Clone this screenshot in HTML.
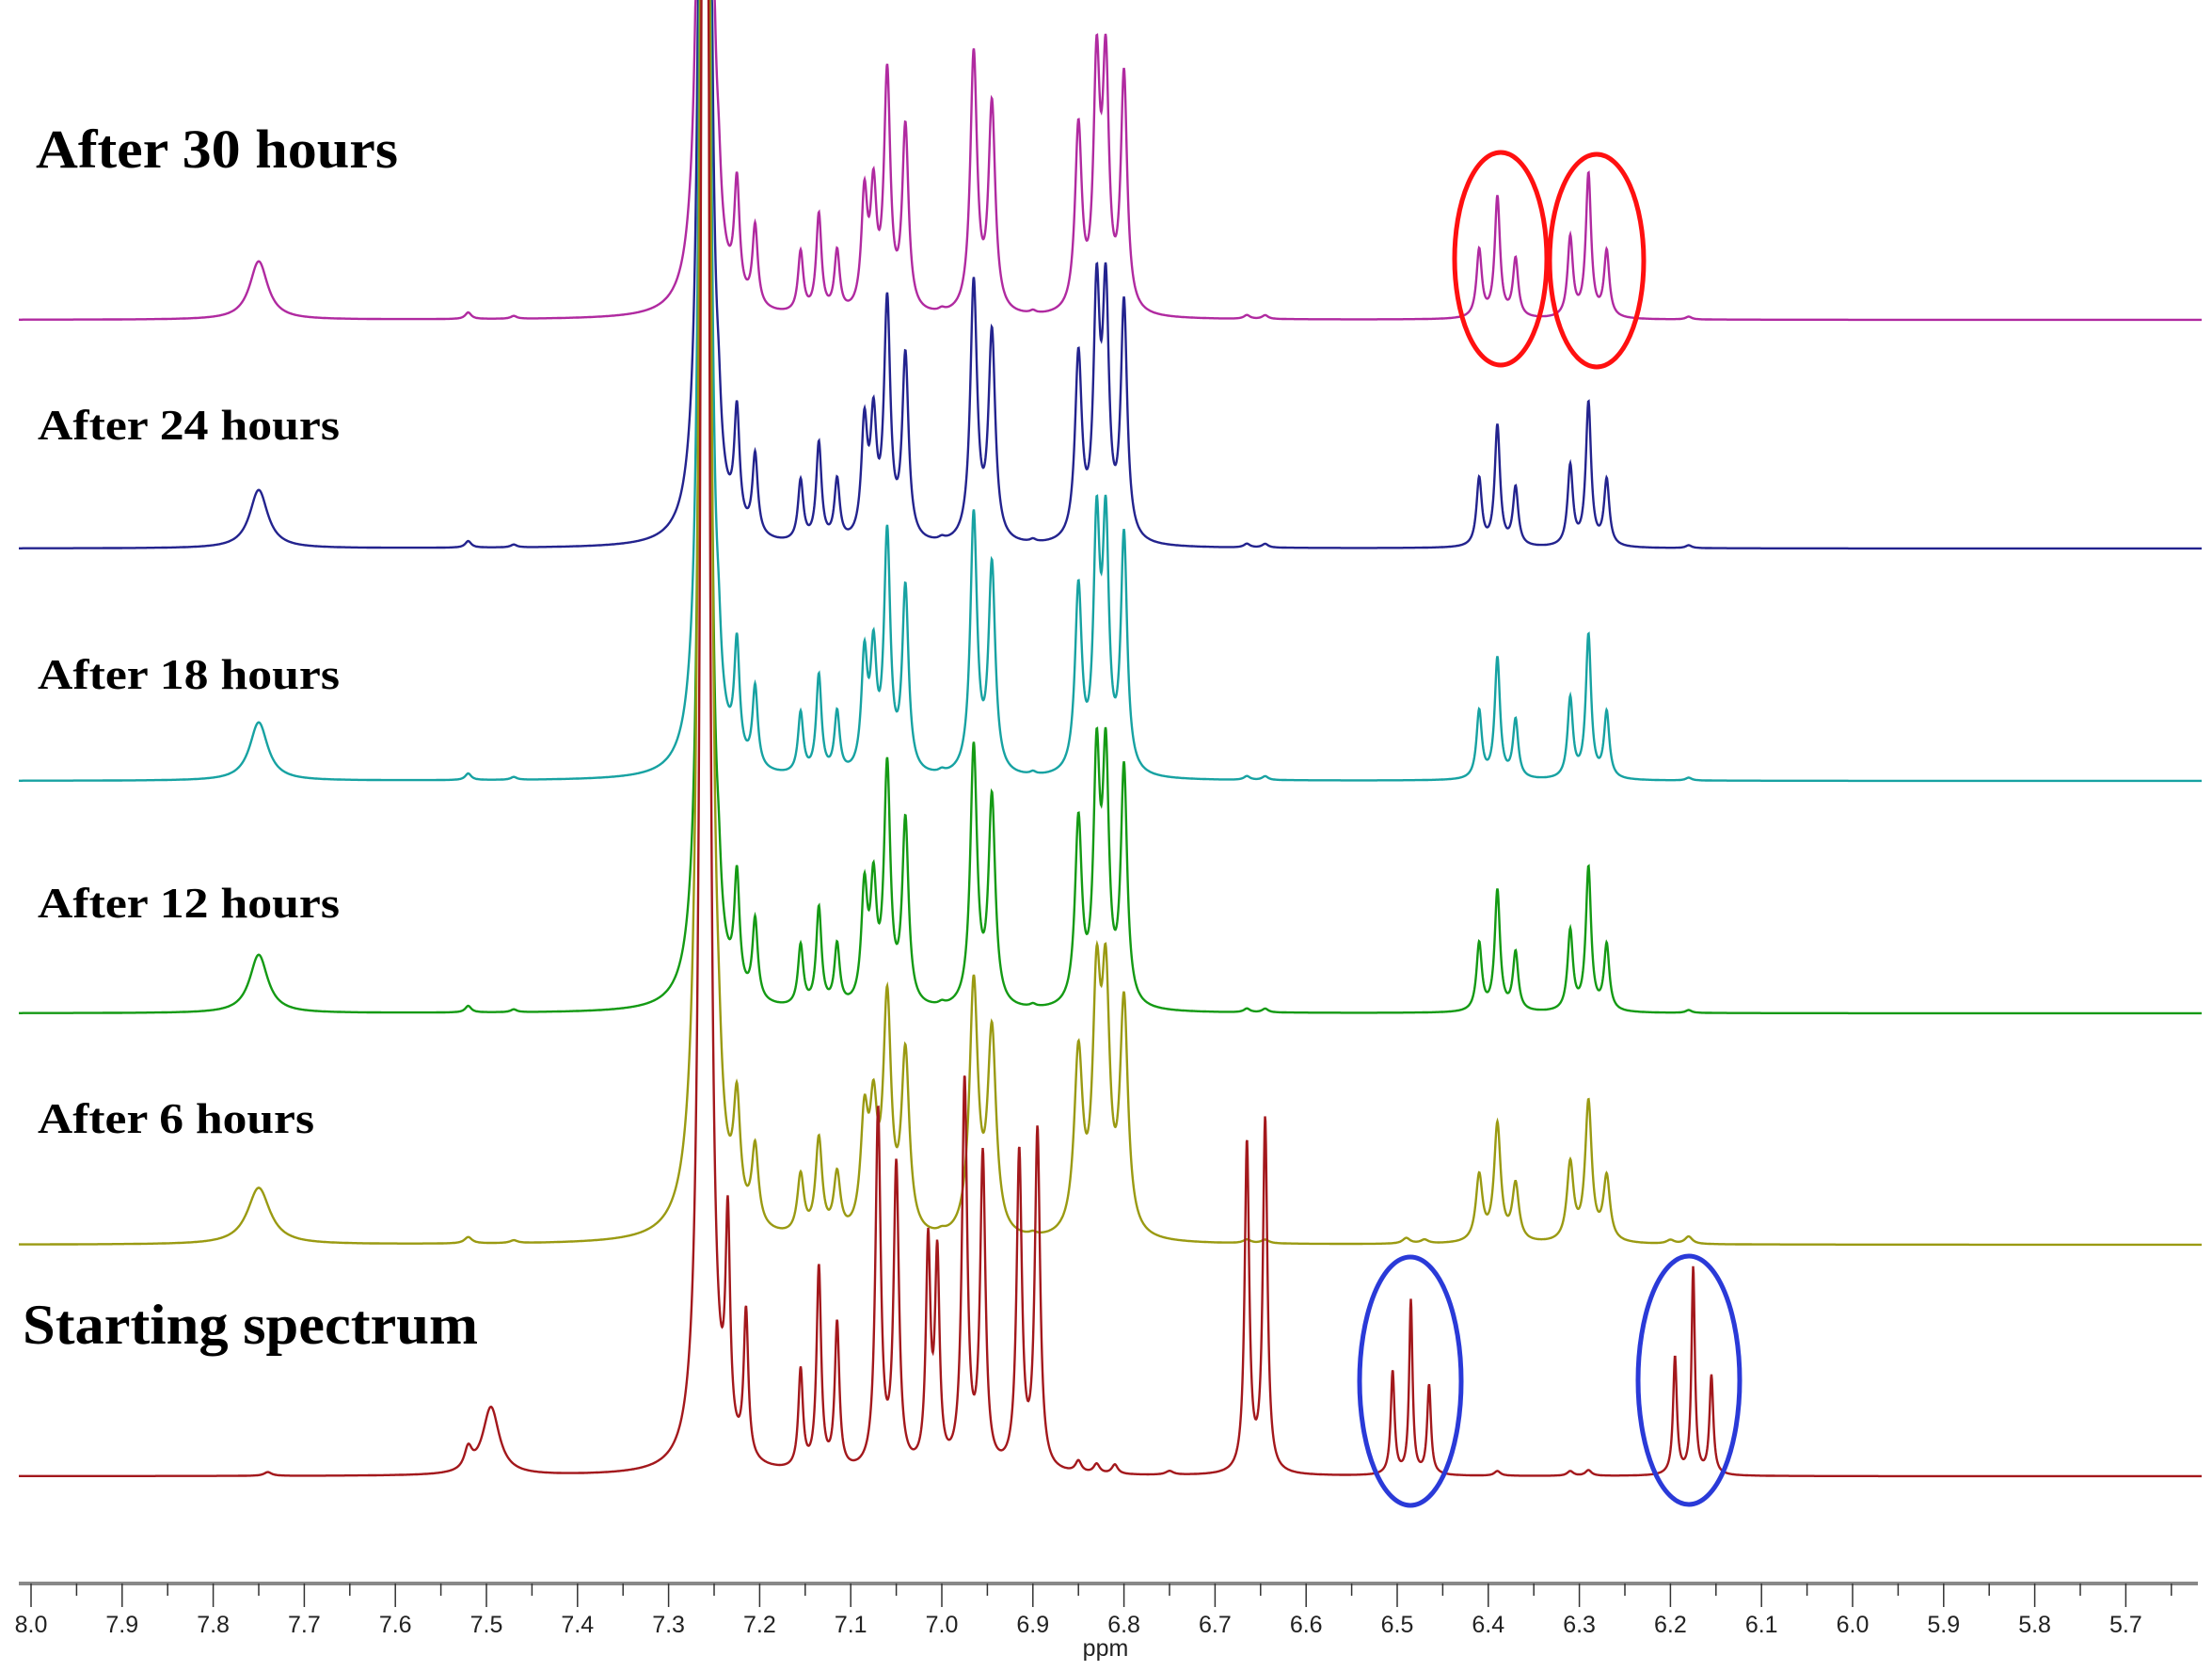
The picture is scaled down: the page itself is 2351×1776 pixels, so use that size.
<!DOCTYPE html>
<html><head><meta charset="utf-8">
<style>
html,body{margin:0;padding:0;background:#fff;}
svg{display:block;}
.lab{font-family:"Liberation Serif",serif;font-weight:bold;fill:#000;}
.tk{font-family:"Liberation Sans",sans-serif;font-size:25px;fill:#222;}
</style></head>
<body>
<svg id="s" width="2351" height="1776" viewBox="0 0 2351 1776" xmlns="http://www.w3.org/2000/svg">
<text class="lab" x="38" y="178" font-size="58" textLength="385" lengthAdjust="spacingAndGlyphs">After 30 hours</text>
<text class="lab" x="40" y="467" font-size="46" textLength="321" lengthAdjust="spacingAndGlyphs">After 24 hours</text>
<text class="lab" x="40" y="732" font-size="46" textLength="321" lengthAdjust="spacingAndGlyphs">After 18 hours</text>
<text class="lab" x="40" y="975" font-size="46" textLength="321" lengthAdjust="spacingAndGlyphs">After 12 hours</text>
<text class="lab" x="40" y="1204" font-size="46" textLength="294" lengthAdjust="spacingAndGlyphs">After 6 hours</text>
<text class="lab" x="24" y="1428" font-size="60" textLength="484" lengthAdjust="spacingAndGlyphs">Starting spectrum</text>
<g id="spec"></g>
<ellipse cx="1595" cy="275" rx="49" ry="113" fill="none" stroke="#ff1010" stroke-width="5"/>
<ellipse cx="1697" cy="277" rx="50" ry="113" fill="none" stroke="#ff1010" stroke-width="5"/>
<ellipse cx="1499" cy="1468" rx="54" ry="132" fill="none" stroke="#2a3ad8" stroke-width="5"/>
<ellipse cx="1795" cy="1467" rx="54" ry="132" fill="none" stroke="#2a3ad8" stroke-width="5"/>
<line x1="20" y1="1683" x2="2336" y2="1683" stroke="#888" stroke-width="4"/>
<g id="ax"></g>
<text class="tk" x="1175" y="1760" text-anchor="middle" font-size="24">ppm</text>
</svg>
<script>
var X=function(p){return 33+(8.0-p)*968;};
var svg="http://www.w3.org/2000/svg";
function mk(tag,attrs,parent){var e=document.createElementNS(svg,tag);for(var k in attrs)e.setAttribute(k,attrs[k]);parent.appendChild(e);return e;}
var ax=document.getElementById('ax');
for(var i=0;i<=47;i++){var p=8.0-i*0.05;var x=X(p);var major=(i%2==0);
 mk('line',{x1:x,y1:1683,x2:x,y2:major?1708:1696,stroke:'#333','stroke-width':1.5},ax);
 if(major){var t=mk('text',{x:x,y:1735,'text-anchor':'middle','class':'tk'},ax);t.textContent=p.toFixed(1);}}
var up=[[7.75,62,0.012],[7.52,7,0.004],[7.47,3,0.004],[7.26,4500,0.003],[7.245,40,0.003],
[7.225,120,0.0035],[7.205,85,0.0035],[7.155,65,0.0035],[7.135,105,0.0035],[7.115,65,0.0035],
[7.085,120,0.004],[7.075,120,0.004],[7.06,250,0.0042],[7.04,195,0.0042],[6.965,275,0.0045],[6.945,220,0.0045],
[6.85,195,0.0045],[6.83,250,0.0042],[6.82,250,0.0042],[6.80,250,0.0042],[6.665,4,0.004],[6.645,4,0.004],
[6.41,72,0.0035],[6.39,128,0.0035],[6.37,62,0.0035],[6.31,85,0.0035],[6.29,152,0.0035],[6.27,70,0.0035],[6.18,3,0.004],[7.0,3,0.004],[6.9,3,0.004]];
var olive=up.map(function(a){return [a[0],a[1]*0.97,a[2]*1.25];});
olive.push([6.49,6,0.005],[6.47,4,0.005],[6.18,5,0.005],[6.2,4,0.005]);
var red=[[7.74,4,0.005],[7.52,22,0.005],[7.495,72,0.011],[7.26,4500,0.003],[7.235,230,0.003],[7.215,155,0.003],
[7.155,105,0.003],[7.135,215,0.003],[7.115,155,0.003],[7.07,380,0.0035],[7.05,320,0.0035],[7.015,235,0.003],[7.005,220,0.003],
[6.975,410,0.0035],[6.955,330,0.0035],[6.915,335,0.0035],[6.895,360,0.0035],[6.85,12,0.004],[6.83,10,0.004],[6.81,10,0.004],
[6.665,350,0.003],[6.645,375,0.003],[6.505,110,0.0025],[6.485,185,0.0022],[6.465,95,0.0025],
[6.195,125,0.0025],[6.175,220,0.0022],[6.155,105,0.0025],[6.39,5,0.004],[6.31,5,0.004],[6.29,6,0.004],[6.75,4,0.005]];
var series=[[340,'#b02aa0',up],[583,'#23238e',up],[830,'#17a2a2',up],[1077,'#149a14',up],[1323,'#9a9a12',olive],[1569,'#a3181c',red]];
var g=document.getElementById('spec');
series.forEach(function(s){var base=s[0],pk=s[2],d='';
 for(var x=20;x<=2340;x+=0.5){var p=8.0-(x-33)/968,y=0;
  for(var j=0;j<pk.length;j++){var dx=p-pk[j][0],w=pk[j][2];y+=pk[j][1]*w*w/(dx*dx+w*w);}
  var yy=Math.max(-5,base-y);d+=(d?'L':'M')+x.toFixed(1)+' '+yy.toFixed(1);}
 mk('path',{d:d,fill:'none',stroke:s[1],'stroke-width':2.4},g);});
</script>
</body></html>
